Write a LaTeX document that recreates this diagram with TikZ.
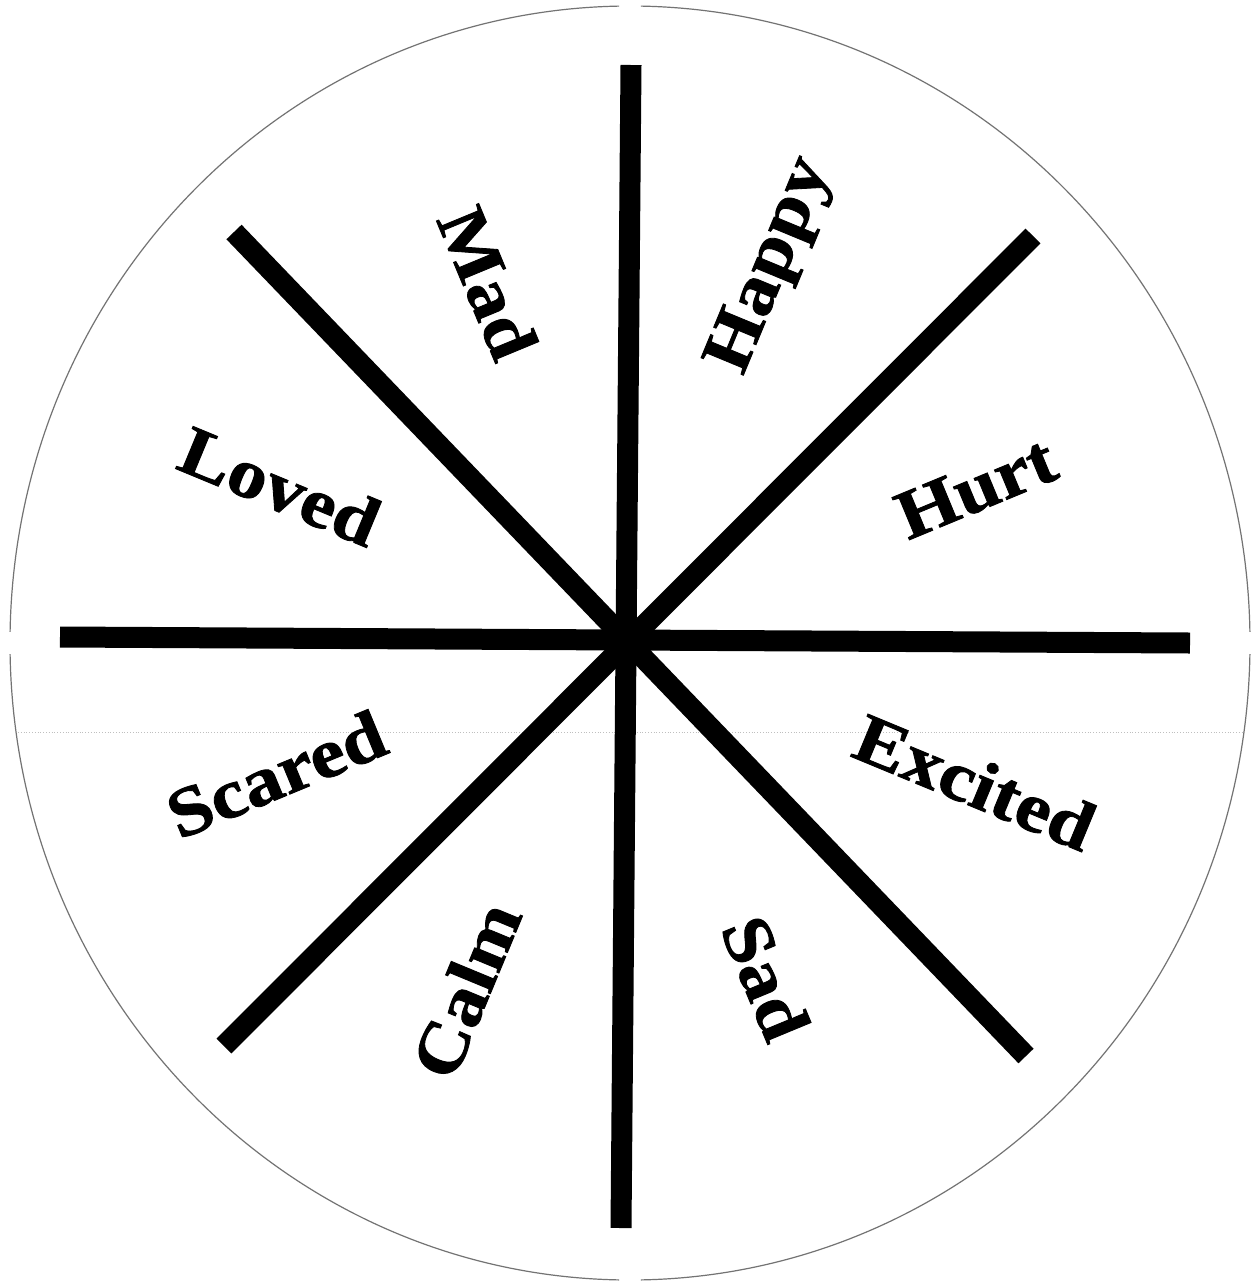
\documentclass[tikz,border=0pt]{standalone}
\usepackage{fontspec}
\setmainfont{Liberation Serif}[FakeStretch=1.12,BoldFeatures={FakeBold=1.2}]
\begin{document}
\begin{tikzpicture}[x=1pt,y=-1pt,
  spoke/.style={line width=21pt,black,line cap=butt},
  rim/.style={line width=1.2pt,black!55},
  scanline/.style={line width=0.8pt,black!25,dotted},
  lbl/.style={font=\bfseries\fontsize{70}{74}\selectfont,inner sep=0pt}]
\useasboundingbox (0,0) rectangle (1256,1283);
\fill[white] (0,0) rectangle (1256,1283);
\coordinate (c) at (630,643);
% outer rim with small gaps
\draw[rim] (c) ++(1:620 and 637) arc[start angle=1,end angle=89,x radius=620,y radius=637];
\draw[rim] (c) ++(91:620 and 637) arc[start angle=91,end angle=179,x radius=620,y radius=637];
\draw[rim] (c) ++(181:620 and 637) arc[start angle=181,end angle=269,x radius=620,y radius=637];
\draw[rim] (c) ++(271:620 and 637) arc[start angle=271,end angle=359,x radius=620,y radius=637];
\coordinate (sl) at (18,732);
\coordinate (sr) at (1242,732);
\draw[scanline] (sl) -- (sr);
% spoke ends
\coordinate (n) at (631,65);
\coordinate (s) at (621,1228);
\coordinate (w) at (60,637);
\coordinate (e) at (1190,643);
\coordinate (nw) at (234,232);
\coordinate (se) at (1026,1056);
\coordinate (ne) at (1033,236);
\coordinate (sw) at (224,1046);
\draw[spoke] (n) -- (s);
\draw[spoke] (w) -- (e);
\draw[spoke] (nw) -- (se);
\draw[spoke] (ne) -- (sw);
% labels
\node[lbl,rotate=-67.5] (mad) at (488,283) {Mad};
\node[lbl,rotate=67.5] (happy) at (772,266) {Happy};
\node[lbl,rotate=22.5] (hurt) at (976,488) {Hurt};
\node[lbl,rotate=-22.5] (excited) at (975,782) {Excited};
\node[lbl,rotate=-67.5] (sad) at (766,978) {Sad};
\node[lbl,rotate=67.5] (calm) at (466,990) {Calm};
\node[lbl,rotate=22.5] (scared) at (276,774) {Scared};
\node[lbl,rotate=-22.5] (loved) at (280,486) {Loved};
\end{tikzpicture}
\end{document}
